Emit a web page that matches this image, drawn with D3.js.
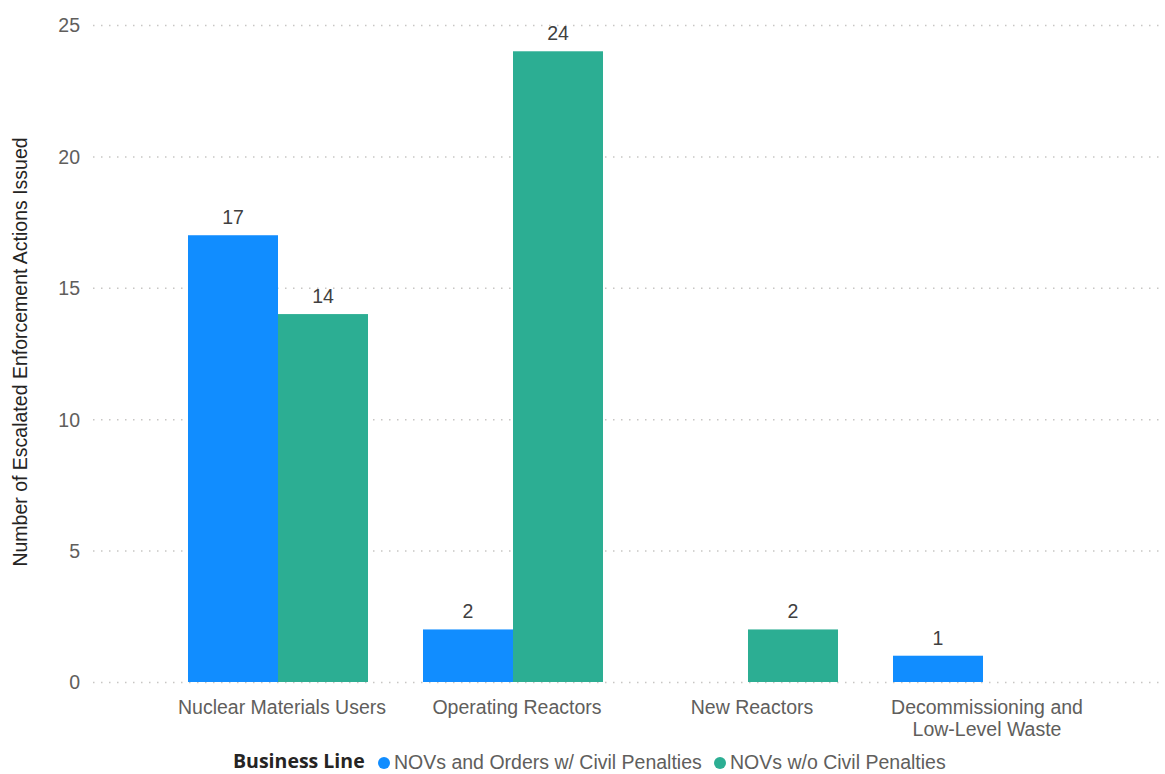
<!DOCTYPE html>
<html>
<head>
<meta charset="utf-8">
<script src="https://cdn.jsdelivr.net/npm/d3@7"></script>
<style>
html,body{margin:0;padding:0;background:#fff;}
svg{display:block;font-family:"Liberation Sans",Arial,sans-serif;}
</style>
</head>
<body>
<svg id="chart" width="1165" height="774"></svg>
<script>
const categories = ["Nuclear Materials Users", "Operating Reactors", "New Reactors", "Decommissioning and Low-Level Waste"];
const categoryLines = [["Nuclear Materials Users"], ["Operating Reactors"], ["New Reactors"], ["Decommissioning and", "Low-Level Waste"]];
const seriesNames = ["NOVs and Orders w/ Civil Penalties", "NOVs w/o Civil Penalties"];
const withPenalties = [17, 2, null, 1];
const withoutPenalties = [14, 24, 2, null];
const yTicks = [0, 5, 10, 15, 20, 25];
const colors = ["#118DFF", "#2CAE93"];

const FS = "19.5px";
const svg = d3.select("#chart");
const plotLeft = 93, plotRight = 1165;
const y = d3.scaleLinear().domain([0, 25]).range([682, 25]);
const x = d3.scaleBand().domain(categories).range([160.5, 1100.5]).paddingInner(0.234).paddingOuter(0.117);
const xs = d3.scaleBand().domain(seriesNames).range([0, x.bandwidth()]);

// gridlines
const yAxis = d3.axisLeft(y).tickValues(yTicks).tickSize(0).tickPadding(0);
const yg = svg.append("g").attr("transform", `translate(${plotLeft},0)`).call(yAxis);
yg.select(".domain").remove();
yg.selectAll(".tick line").attr("x2", plotRight - plotLeft).attr("stroke", "#c8c6c4")
  .attr("stroke-width", 1.5).attr("stroke-dasharray", "1.5,6.5");
yg.selectAll(".tick text").attr("x", -13).attr("dy", "0.35em").attr("fill", "#605E5C")
  .style("font-size", FS).style("font-family", "'Liberation Sans',Arial,sans-serif");

// y axis title
svg.append("text").attr("transform", "translate(27,352) rotate(-90)").attr("text-anchor", "middle")
  .attr("fill", "#252423").style("font-size", "19.5px").text("Number of Escalated Enforcement Actions Issued");

// bars
const series = [withPenalties, withoutPenalties];
series.forEach((vals, si) => {
  const g = svg.append("g");
  const data = categories.map((c, i) => ({c, v: vals[i]})).filter(d => d.v != null);
  g.selectAll("rect").data(data).join("rect")
    .attr("x", d => x(d.c) + xs(seriesNames[si]))
    .attr("width", xs.bandwidth())
    .attr("y", d => y(d.v))
    .attr("height", d => y(0) - y(d.v))
    .attr("fill", colors[si]);
  g.selectAll("text").data(data).join("text")
    .attr("x", d => x(d.c) + xs(seriesNames[si]) + xs.bandwidth() / 2)
    .attr("y", d => y(d.v) - 11)
    .attr("text-anchor", "middle").attr("fill", "#404040")
    .style("font-size", FS).text(d => d.v);
});

// x axis labels
const xg = svg.append("g");
categories.forEach((c, i) => {
  const cx = x(c) + x.bandwidth() / 2 + 4;
  const t = xg.append("text").attr("x", cx).attr("y", 714)
    .attr("text-anchor", "middle").attr("fill", "#605E5C").style("font-size", FS);
  categoryLines[i].forEach((line, j) => {
    t.append("tspan").attr("x", cx).attr("dy", j === 0 ? 0 : 22).text(line);
  });
});

// legend
const lg = svg.append("g");
lg.append("text").attr("x", 233).attr("y", 768).attr("fill", "#252423")
  .style("font-family", "'Open Sans','Noto Sans',sans-serif").style("font-weight", "bold")
  .style("font-size", "19.5px").text("Business Line");
const legendX = [384, 720];
seriesNames.forEach((s, i) => {
  lg.append("circle").attr("cx", legendX[i]).attr("cy", 763).attr("r", 6).attr("fill", colors[i]);
  lg.append("text").attr("x", legendX[i] + 10).attr("y", 769).attr("fill", "#605E5C")
    .style("font-size", FS).text(s);
});
</script>
</body>
</html>
